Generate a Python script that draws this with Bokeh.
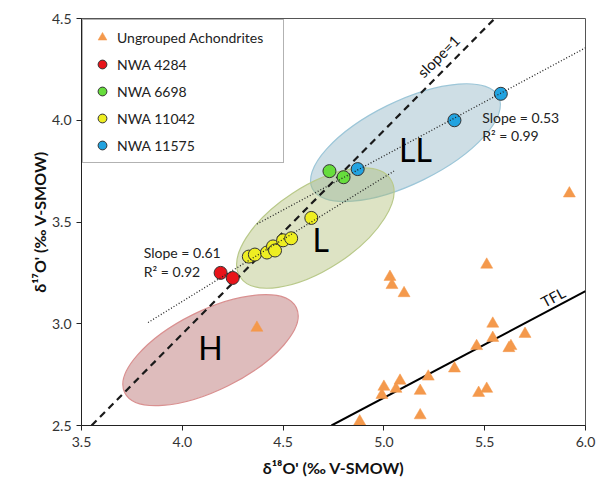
from bokeh.plotting import figure
from bokeh.models import FixedTicker
from bokeh.core.properties import value
from bokeh.embed import file_html
from bokeh.resources import INLINE
import math

# ---------------- data ----------------
ug_x = [4.37, 5.92, 5.51, 5.03, 5.04, 5.10, 5.54, 5.54, 5.70, 5.46, 5.62, 5.63,
        5.35, 5.22, 5.08, 5.00, 5.06, 4.99, 5.18, 5.47, 5.51, 4.88, 5.18]
ug_y = [2.98, 3.64, 3.29, 3.23, 3.19, 3.15, 3.00, 2.93, 2.95, 2.89, 2.88, 2.89,
        2.78, 2.74, 2.72, 2.69, 2.68, 2.65, 2.67, 2.66, 2.68, 2.52, 2.55]

nwa4284_x = [4.19, 4.25]
nwa4284_y = [3.25, 3.225]
nwa6698_x = [4.73, 4.80]
nwa6698_y = [3.75, 3.72]
nwa11042_x = [4.33, 4.36, 4.42, 4.45, 4.46, 4.50, 4.54, 4.64]
nwa11042_y = [3.33, 3.34, 3.35, 3.38, 3.36, 3.41, 3.42, 3.52]
nwa11575_x = [4.87, 5.35, 5.58]
nwa11575_y = [3.76, 4.00, 4.13]

slope1_x = [3.55, 5.55]
slope1_y = [2.50, 4.50]
tfl_x = [4.74, 6.00]
tfl_y = [2.50, 3.16]
fit61_x = [3.83, 5.05]
fit61_y = [3.006, 3.75]
fit53_x = [4.37, 6.00]
fit53_y = [3.49, 4.356]

# ordinary chondrite fields: name, centre x, centre y, width, height, angle (deg)
field_names = ["LL", "L", "H"]
field_x = [5.107, 4.66, 4.14]
field_y = [3.89, 3.47, 2.87]
field_w = [1.03, 0.89, 0.95]
field_h = [0.405, 0.41, 0.39]
field_ang = [26.2, 33.0, 26.4]

x_ticks = [3.5, 4.0, 4.5, 5.0, 5.5, 6.0]
x_tick_labels = ["3.5", "4.0", "4.5", "5.0", "5.5", "6.0"]
y_ticks = [2.5, 3.0, 3.5, 4.0, 4.5]
y_tick_labels = ["2.5", "3.0", "3.5", "4.0", "4.5"]

FONT = "Lato"

p = figure(width=598, height=479, x_range=(3.5, 6.0), y_range=(2.5, 4.5),
           output_backend="svg", toolbar_location=None,
           min_border_left=81, min_border_right=13, min_border_top=18, min_border_bottom=54)
p.xgrid.visible = False
p.ygrid.visible = False
p.outline_line_color = "#555555"
p.outline_line_width = 1

# fields
field_fill = ["#7fa9bb", "#a9b96b", "#b56a6a"]
field_line = ["#9cc6d8", "#b9c98a", "#d99090"]
field_alpha = [0.38, 0.40, 0.45]
for i in range(3):
    p.ellipse(x=[field_x[i]], y=[field_y[i]], width=[field_w[i]], height=[field_h[i]],
              angle=[math.radians(field_ang[i])], fill_color=field_fill[i],
              fill_alpha=field_alpha[i], line_color=field_line[i], line_width=1.2)

# reference lines
p.line(slope1_x, slope1_y, line_color="#1a1a1a", line_width=2.2, line_dash="7 5")
p.line(tfl_x, tfl_y, line_color="#000000", line_width=2)

# data
p.scatter(ug_x, ug_y, marker="triangle", size=12, fill_color="#f4994c",
          line_color="#f4994c", line_width=0.5, legend_label="Ungrouped Achondrites")
p.scatter(nwa4284_x, nwa4284_y, marker="circle", size=13, fill_color="#e8141a",
          line_color="#333333", line_width=1, legend_label="NWA 4284")
p.scatter(nwa6698_x, nwa6698_y, marker="circle", size=13, fill_color="#66dd3c",
          line_color="#333333", line_width=1, legend_label="NWA 6698")
p.scatter(nwa11042_x, nwa11042_y, marker="circle", size=13, fill_color="#eeee22",
          line_color="#333333", line_width=1, legend_label="NWA 11042")
p.scatter(nwa11575_x, nwa11575_y, marker="circle", size=13, fill_color="#22a3e0",
          line_color="#333333", line_width=1, legend_label="NWA 11575")

# regression lines (dotted, drawn over the points)
p.line(fit61_x, fit61_y, line_color="#222222", line_width=1.3, line_dash="1 2")
p.line(fit53_x, fit53_y, line_color="#222222", line_width=1.3, line_dash="1 2")

# texts
p.text(x=[4.14, 4.686, 5.157], y=[2.884, 3.415, 3.856], text=["H", "L", "LL"],
       text_font=value(FONT), text_font_size="32px", text_color="#000000",
       text_align="center", text_baseline="middle")
p.text(x=[3.809, 3.809], y=[3.349, 3.255], text=["Slope = 0.61", "R² = 0.92"],
       text_font=value(FONT), text_font_size="14px", text_color="#222222",
       text_align="left", text_baseline="middle")
p.text(x=[5.488, 5.488], y=[4.015, 3.926], text=["Slope = 0.53", "R² = 0.99"],
       text_font=value(FONT), text_font_size="14px", text_color="#222222",
       text_align="left", text_baseline="middle")
p.text(x=[5.27], y=[4.315], text=["slope=1"], angle=[math.radians(45)],
       text_font=value(FONT), text_font_size="15px", text_color="#111111",
       text_align="center", text_baseline="middle")
p.text(x=[5.839], y=[3.132], text=["TFL"], angle=[math.radians(28)],
       text_font=value(FONT), text_font_size="15px", text_color="#111111",
       text_align="center", text_baseline="middle")

# axes
for ax, ticks, labels in ((p.xaxis, x_ticks, x_tick_labels), (p.yaxis, y_ticks, y_tick_labels)):
    ax.ticker = FixedTicker(ticks=ticks)
    ax.major_label_overrides = {t: l for t, l in zip(ticks, labels)}
    ax.minor_tick_line_color = None
    ax.major_tick_in = 0
    ax.major_tick_out = 5
    ax.major_tick_line_color = "#222222"
    ax.axis_line_color = "#222222"
    ax.major_label_text_font = FONT
    ax.major_label_text_font_size = "14px"
    ax.major_label_text_color = "#333333"
    ax.axis_label_text_font = FONT
    ax.axis_label_text_font_size = "16px"
    ax.axis_label_text_font_style = "bold"
    ax.axis_label_text_color = "#111111"
p.xaxis.axis_label = "δ¹⁸O' (‰ V-SMOW)"
p.yaxis.axis_label = "δ¹⁷O' (‰ V-SMOW)"
p.xaxis.major_label_standoff = 6
p.xaxis.axis_label_standoff = 8
p.yaxis.major_label_standoff = 5
p.yaxis.axis_label_standoff = 0

# legend
lg = p.legend[0]
lg.location = "top_left"
lg.margin = 1
lg.padding = 6
lg.spacing = 5
lg.label_height = 22
lg.glyph_height = 22
lg.glyph_width = 26
lg.label_width = 160
lg.label_standoff = 2
lg.label_text_font = FONT
lg.label_text_font_size = "14px"
lg.label_text_color = "#222222"
lg.border_line_color = "#666666"
lg.border_line_width = 1
lg.background_fill_alpha = 1

open("out.html", "w").write(file_html(p, INLINE))
